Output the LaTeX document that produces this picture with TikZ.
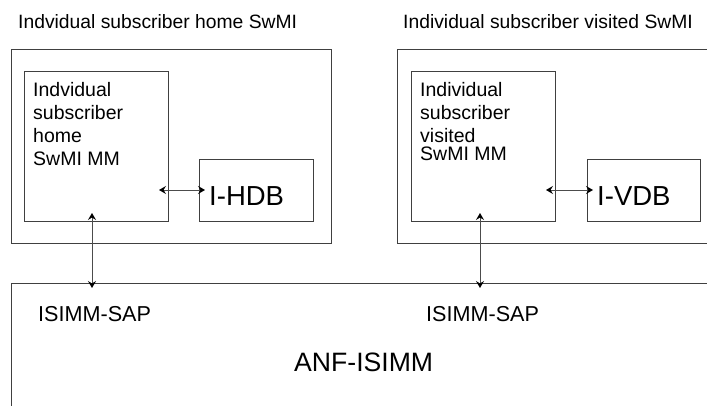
\documentclass[tikz,border=0pt]{standalone}
\usepackage{fontspec}
\setmainfont{Liberation Sans}
\usetikzlibrary{arrows.meta}
\tikzset{
  boxnode/.style={draw=black!75, line width=0.9pt, inner sep=0pt, anchor=north west, rectangle},
  lbl/.style={inner sep=0pt, anchor=base west},
  conn/.style={draw=black!70, line width=0.9pt, {Stealth[length=7pt,width=8pt,inset=2.5pt,black]}-{Stealth[length=7pt,width=8pt,inset=2.5pt,black]}},
  ttl/.style={lbl, font=\fontsize{19.3}{23}\selectfont},
  inner/.style={lbl, font=\fontsize{19.5}{23}\selectfont},
  sap/.style={lbl, font=\fontsize{21.6}{26}\selectfont},
  db/.style={lbl, font=\fontsize{27.5}{32}\selectfont},
  anf/.style={lbl, font=\fontsize{26.6}{32}\selectfont}
}
\begin{document}
\begin{tikzpicture}[x=1pt,y=-1pt]
\useasboundingbox (0,0) rectangle (707,406);
\clip (0,0) rectangle (707,406);
% titles
\node[ttl] (t1) at (18,29) {Indvidual subscriber home SwMI};
\node[ttl] (t2) at (403,29) {Individual subscriber visited SwMI};
% boxes
\node[boxnode, minimum width=320pt, minimum height=194pt] (homeOuter) at (11,49) {};
\node[boxnode, minimum width=144pt, minimum height=150pt] (homeMM) at (24,71) {};
\node[boxnode, minimum width=114pt, minimum height=62pt] (hdb) at (199,159) {};
\node[boxnode, minimum width=330pt, minimum height=194pt] (visOuter) at (397,49) {};
\node[boxnode, minimum width=144pt, minimum height=150pt] (visMM) at (411,71) {};
\node[boxnode, minimum width=113pt, minimum height=62pt] (vdb) at (587,159) {};
\node[boxnode, minimum width=720pt, minimum height=140pt] (anfbox) at (11,283) {};
% inner texts
\node[inner] (h1) at (33,97) {Indvidual};
\node[inner] (h2) at (33,120) {subscriber};
\node[inner] (h3) at (33,143) {home};
\node[inner] (h4) at (33,166) {SwMI MM};
\node[inner] (v1) at (420,97) {Individual};
\node[inner] (v2) at (420,120) {subscriber};
\node[inner] (v3) at (420,143) {visited};
\node[inner] (v4) at (420,161) {SwMI MM};
\node[db] (hdbt) at (209,206) {I-HDB};
\node[db] (vdbt) at (597,206) {I-VDB};
\node[sap] (sap1) at (38,321) {ISIMM-SAP};
\node[sap] (sap2) at (426,321) {ISIMM-SAP};
\node[anf] (anft) at (294,371) {ANF-ISIMM};
% connector end points
\coordinate (a1) at (159,190);
\coordinate (a2) at (205,190);
\coordinate (b1) at (546,190);
\coordinate (b2) at (593,190);
\coordinate (c1) at (92,213);
\coordinate (c2) at (92,288);
\coordinate (d1) at (480,213);
\coordinate (d2) at (480,288);
\draw[conn] (a1) -- (a2);
\draw[conn] (b1) -- (b2);
\draw[conn] (c1) -- (c2);
\draw[conn] (d1) -- (d2);
\end{tikzpicture}
\end{document}
